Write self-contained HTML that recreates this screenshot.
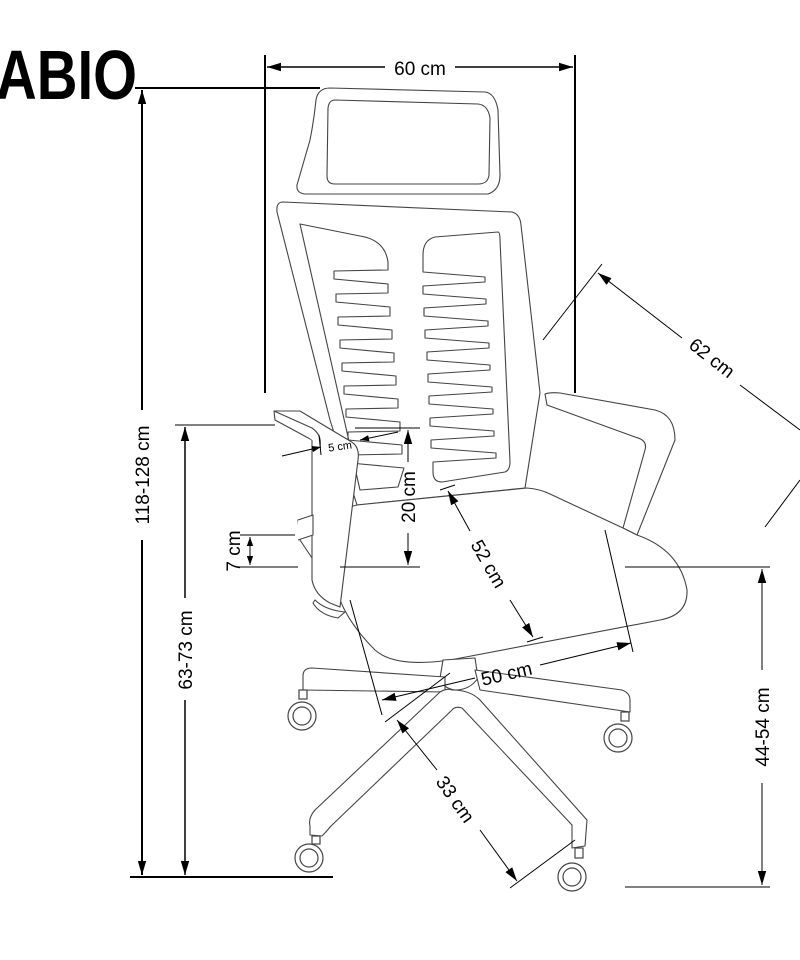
<!DOCTYPE html>
<html><head><meta charset="utf-8"><style>html,body{margin:0;padding:0;background:#fff}svg{display:block}</style></head>
<body>
<svg width="800" height="960" viewBox="0 0 800 960" xmlns="http://www.w3.org/2000/svg" font-family="Liberation Sans, sans-serif">
<defs>
<marker id="a" viewBox="0 0 10 10" refX="10" refY="5" markerWidth="9" markerHeight="9" markerUnits="userSpaceOnUse" orient="auto-start-reverse"><path d="M0,1.5 L10,5 L0,8.5 Z" fill="#000"/></marker>
<marker id="b" viewBox="0 0 10 10" refX="10" refY="5" markerWidth="14" markerHeight="14" markerUnits="userSpaceOnUse" orient="auto-start-reverse"><path d="M0,2 L10,5 L0,8 Z" fill="#000"/></marker>
</defs>
<text x="-4" y="99" font-size="70" font-weight="bold" textLength="141" lengthAdjust="spacingAndGlyphs">ABIO</text>

<g fill="#fff" stroke="#444" stroke-width="1.1" stroke-linejoin="round">
<path d="M330,88 L485,92 Q495,93 498,110 L500,175 Q500,190 488,194 L305,194 Q296,193 297,185 L310,140 Q314,120 316,100 Q318,88 330,88 Z"/>
<path d="M335,100 L478,104 Q488,105 490,118 L489,175 Q488,184 478,184 L335,184 Q327,184 327,176 L328,108 Q329,100 335,100 Z"/>
<path d="M283,202 L512,212 Q520,214 521,225 L540,393 L525,488 L357,505 L330,420 L277,212 Q276,202 283,202 Z"/>
<path d="M300,224 L360,236 Q385,240 388,262 L388,270 L334,271 L334,279 L388,284 L388,293 L336,294 L336,302 L390,307 L390,316 L338,317 L338,325 L392,330 L392,339 L340,340 L340,348 L394,353 L394,362 L342,363 L342,371 L396,376 L396,385 L344,386 L344,394 L398,399 L398,408 L346,409 L346,417 L400,422 L400,431 L348,432 L348,440 L402,445 L402,454 L350,455 L350,463 L404,468 L398,487 L360,490 Z"/>
<path d="M498,232 L435,237 Q423,240 423,255 L423,272 L485,277 L485,282 L423,286 L423,294 L486,299 L486,304 L424,308 L424,316 L488,321 L488,326 L425,330 L425,338 L489,343 L489,348 L427,352 L427,360 L490,365 L490,370 L428,374 L428,382 L492,387 L492,392 L429,396 L429,404 L493,409 L493,414 L430,418 L430,426 L494,431 L494,436 L431,440 L431,448 L496,453 L496,458 L433,462 L433,472 Q433,482 442,482 L505,472 Q510,470 510,462 L500,240 Q500,232 498,232 Z"/>
<path d="M545,394 Q550,392 560,393 L655,410 Q675,415 675,440 L637,535 L623,528 L645,450 Q648,440 635,437 L547,405 Z"/>
<path d="M357,505 L527,488 Q540,489 550,494 L623,528 L637,535 Q680,550 687,590 Q688,615 660,620 L450,660 Q395,668 375,650 Q350,625 340,600 L300,540 L298,520 Z"/>
<path d="M274,411 L275,420 L312,440 L312,580 Q315,595 330,603 L340,607 L358,460 Q360,446 350,441 L300,411 Z"/>
<path d="M274,411 L312,428 Q322,435 320,446"/>
<path d="M313,603 Q320,615 338,618 L345,612 Q325,610 315,600 Z"/>
<path d="M298,520 L313,515 L313,535 L298,540"/>
<path d="M443,660 L475,658 L478,678 Q470,690 455,690 Q442,688 440,678 Z"/>
<path d="M445,677 L312,668 Q303,668 303,676 L303,690 L445,692 Z"/>
<path d="M475,670 L622,690 Q630,693 630,700 L630,712 L480,690 Z"/>
<path d="M452,690 Q447,688 440,692 L315,810 Q308,818 310,826 L310,835 L322,836 Q326,832 331,826 L452,710 Q455,706 462,708 L572,825 L572,848 L585,846 L587,820 L480,700 Q470,690 452,690 Z"/>
</g>
<g fill="#fff" stroke="#444" stroke-width="1.2">
<rect x="299" y="690" width="8" height="9"/><circle cx="302" cy="716" r="14"/><circle cx="302" cy="716" r="9"/>
<rect x="621" y="712" width="8" height="9"/><circle cx="618" cy="738" r="14"/><circle cx="618" cy="738" r="9"/>
<rect x="312" y="836" width="8" height="8"/><circle cx="309" cy="858" r="14"/><circle cx="309" cy="858" r="9"/>
<rect x="575" y="848" width="8" height="10"/><circle cx="572" cy="877" r="14"/><circle cx="572" cy="877" r="9"/>
</g>

<g stroke="#000" fill="none">
<line x1="265" y1="55" x2="265" y2="393" stroke-width="2"/>
<line x1="575" y1="55" x2="575" y2="393" stroke-width="2"/>
<line x1="267" y1="67" x2="385" y2="67" stroke-width="1.6" marker-start="url(#b)"/>
<line x1="455" y1="67" x2="573" y2="67" stroke-width="1.6" marker-end="url(#b)"/>
<line x1="135" y1="88" x2="320" y2="88" stroke-width="2"/>
<line x1="130" y1="877" x2="333" y2="877" stroke-width="2"/>
<line x1="142" y1="90" x2="142" y2="410" stroke-width="2" marker-start="url(#b)"/>
<line x1="142" y1="540" x2="142" y2="875" stroke-width="2" marker-end="url(#b)"/>
<line x1="175" y1="425" x2="275" y2="425" stroke-width="1"/>
<line x1="185" y1="427" x2="185" y2="598" stroke-width="1.5" marker-start="url(#b)"/>
<line x1="185" y1="700" x2="185" y2="875" stroke-width="1.5" marker-end="url(#b)"/>
<line x1="240" y1="535" x2="295" y2="535" stroke-width="1"/>
<line x1="240" y1="567" x2="298" y2="567" stroke-width="1"/>
<line x1="250" y1="551" x2="250" y2="537" stroke-width="1" marker-end="url(#a)"/>
<line x1="250" y1="551" x2="250" y2="565" stroke-width="1" marker-end="url(#a)"/>
<line x1="355" y1="428" x2="420" y2="428" stroke-width="1"/>
<line x1="340" y1="567" x2="420" y2="567" stroke-width="1"/>
<line x1="408" y1="430" x2="408" y2="462" stroke-width="1" marker-start="url(#b)"/>
<line x1="408" y1="533" x2="408" y2="565" stroke-width="1" marker-end="url(#b)"/>
<line x1="282" y1="456" x2="321" y2="447" stroke-width="1" marker-end="url(#a)"/>
<line x1="398" y1="432" x2="360" y2="440" stroke-width="1" marker-end="url(#a)"/>
<line x1="319" y1="435" x2="321" y2="455" stroke-width="1"/>
<line x1="440" y1="490" x2="455" y2="485" stroke-width="1"/>
<line x1="448" y1="491" x2="470" y2="531" stroke-width="1" marker-start="url(#b)"/>
<line x1="510" y1="600" x2="533" y2="637" stroke-width="1" marker-end="url(#b)"/>
<line x1="527" y1="642" x2="543" y2="637" stroke-width="1"/>
<line x1="543" y1="340" x2="602" y2="264" stroke-width="1"/>
<line x1="765" y1="527" x2="800" y2="480" stroke-width="1"/>
<line x1="598" y1="273" x2="682" y2="338" stroke-width="1" marker-start="url(#b)"/>
<line x1="740" y1="385" x2="800" y2="430" stroke-width="1"/>
<line x1="605" y1="530" x2="633" y2="652" stroke-width="1"/>
<line x1="350" y1="600" x2="382" y2="715" stroke-width="1"/>
<line x1="540" y1="665" x2="631" y2="643" stroke-width="1" marker-end="url(#b)"/>
<line x1="475" y1="678" x2="382" y2="700" stroke-width="1" marker-end="url(#b)"/>
<line x1="385" y1="722" x2="450" y2="673" stroke-width="1"/>
<line x1="510" y1="888" x2="575" y2="840" stroke-width="1"/>
<line x1="397" y1="720" x2="437" y2="770" stroke-width="1" marker-start="url(#b)"/>
<line x1="480" y1="830" x2="517" y2="881" stroke-width="1" marker-end="url(#b)"/>
<line x1="625" y1="567" x2="770" y2="567" stroke-width="1"/>
<line x1="625" y1="887" x2="770" y2="887" stroke-width="1"/>
<line x1="762" y1="569" x2="762" y2="670" stroke-width="1" marker-start="url(#b)"/>
<line x1="762" y1="783" x2="762" y2="885" stroke-width="1" marker-end="url(#b)"/>
</g>
<g font-size="19" fill="#000">
<text x="420" y="75" text-anchor="middle">60 cm</text>
<text transform="translate(149,475) rotate(-90)" text-anchor="middle">118-128 cm</text>
<text transform="translate(192,650) rotate(-90)" text-anchor="middle">63-73 cm</text>
<text transform="translate(240,551) rotate(-90)" text-anchor="middle">7 cm</text>
<text transform="translate(415,497) rotate(-90)" text-anchor="middle">20 cm</text>
<text x="340" y="450" text-anchor="middle" font-size="11" transform="rotate(-8 340 446)">5 cm</text>
<text transform="translate(483,567) rotate(60)" text-anchor="middle">52 cm</text>
<text transform="translate(708,363) rotate(38)" text-anchor="middle">62 cm</text>
<text transform="translate(508,680) rotate(-13)" text-anchor="middle">50 cm</text>
<text transform="translate(450,803) rotate(55)" text-anchor="middle">33 cm</text>
<text transform="translate(769,727) rotate(-90)" text-anchor="middle">44-54 cm</text>
</g>
</svg>
</body></html>
